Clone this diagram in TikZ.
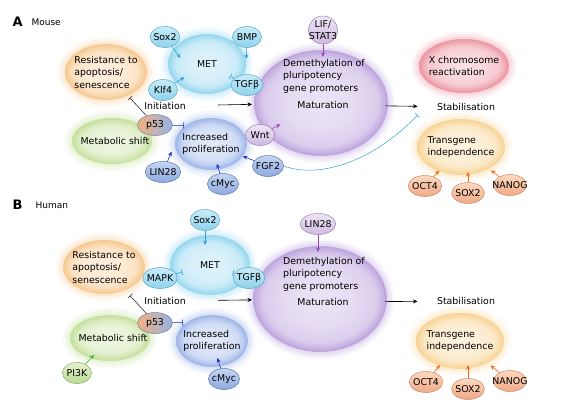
\documentclass[tikz,border=0pt]{standalone}
\usepackage{fontspec}
\setmainfont{DejaVu Sans}
\usepackage{tikz}
\usetikzlibrary{shapes.geometric,arrows.meta,calc}

\definecolor{resc}{RGB}{243,165,70}
\definecolor{metc}{RGB}{80,190,230}
\definecolor{metabc}{RGB}{160,205,90}
\definecolor{prolc}{RGB}{95,135,220}
\definecolor{demc}{RGB}{145,105,200}
\definecolor{xchrc}{RGB}{225,80,100}
\definecolor{transc}{RGB}{245,185,80}
\definecolor{cytop}{HTML}{C8ECF8}\definecolor{cybot}{HTML}{8ED2EC}\definecolor{cyline}{HTML}{5AA7C8}
\definecolor{bltop}{HTML}{C5D5F2}\definecolor{blbot}{HTML}{8EAADF}\definecolor{blline}{HTML}{5878B0}
\definecolor{putop}{HTML}{EEE6F5}\definecolor{pubot}{HTML}{CDB9E0}\definecolor{puline}{HTML}{9A80B8}
\definecolor{ortop}{HTML}{FCD9BF}\definecolor{orbot}{HTML}{F1A987}\definecolor{orline}{HTML}{CF8A66}
\definecolor{grtop}{HTML}{E4F1CF}\definecolor{grbot}{HTML}{B9DA91}\definecolor{grline}{HTML}{86AD62}
\definecolor{p53l}{HTML}{F4B07E}\definecolor{p53r}{HTML}{93B3E3}\definecolor{p53line}{HTML}{6F86B0}
\definecolor{cyarrc}{HTML}{2F9FDC}
\definecolor{blarrc}{HTML}{1C2FC8}
\definecolor{puarrc}{HTML}{9A45B8}
\definecolor{orarrc}{HTML}{F26A1B}
\definecolor{grarrc}{HTML}{4DB33D}

\colorlet{glowc}{white}
\pgfdeclareradialshading[glowc]{glow}{\pgfpoint{0bp}{0bp}}{%
  color(0bp)=(glowc!18!white); color(12bp)=(glowc!23!white);
  color(20bp)=(glowc!32!white); color(25bp)=(glowc!46!white);
  color(50bp)=(glowc!46!white)}

\tikzset{
  blob/.style={ellipse, inner sep=-10pt, align=left, shade, shading=glow,
    /utils/exec={\colorlet{glowc}{#1}},
    postaction={draw=#1, draw opacity=.06, line width=15pt},
    postaction={draw=#1, draw opacity=.08, line width=10pt},
    postaction={draw=#1, draw opacity=.10, line width=5pt}},
  small/.style={ellipse, inner xsep=-1pt, inner ysep=0pt, minimum width=29pt,
    minimum height=21pt, line width=.5pt},
  cysm/.style={small, draw=cyline, top color=cytop, bottom color=cybot},
  blsm/.style={small, draw=blline, top color=bltop, bottom color=blbot},
  pusm/.style={small, draw=puline, top color=putop, bottom color=pubot},
  orsm/.style={small, draw=orline, top color=ortop, bottom color=orbot},
  grsm/.style={small, draw=grline, top color=grtop, bottom color=grbot},
  p53sm/.style={small, minimum width=35pt, draw=p53line, left color=p53l, right color=p53r},
  arr/.style={-{Stealth[length=4.5pt,width=4pt]}, line width=.6pt},
  inh/.style={-{Bar[width=6pt]}, line width=.6pt},
  bkarr/.style={arr, black}, cyarr/.style={arr, cyarrc}, blarr/.style={arr, blarrc},
  puarr/.style={arr, puarrc}, orarr/.style={arr, orarrc}, grarr/.style={arr, grarrc},
  bkinh/.style={inh, black!80}, cyinh/.style={inh, cyarrc}, blinh/.style={inh, blarrc},
  panel/.style={anchor=west, font=\bfseries\fontsize{13}{13}\selectfont},
  species/.style={anchor=west, font=\fontsize{9}{11}\selectfont}
}

\begin{document}
\begin{tikzpicture}[x=1pt, y=-1pt, font=\fontsize{9.4}{12.5}\selectfont]
  \useasboundingbox (0,0) rectangle (578,408);

  % A: mouse
  \node[panel] (labA) at (9,22) {A};
  \node[species] (mouse) at (28,22) {Mouse};

  \node[blob=resc, minimum width=82pt, minimum height=56pt] (resA) at (106,72) {Resistance to\\apoptosis/\\senescence};
  \node[blob=metc, minimum width=78pt, minimum height=60pt] (metA) at (207,64) {MET};
  \node[blob=metabc, minimum width=80pt, minimum height=46pt] (metabA) at (112,141) {\hspace*{6pt}Metabolic shift};
  \node[blob=prolc, minimum width=72pt, minimum height=52pt] (prolA) at (211,144) {Increased\\proliferation};
  \node[blob=demc, minimum width=134pt, minimum height=106pt] (demA) at (321,103) {};
  \node[blob=xchrc, minimum width=90pt, minimum height=54pt] (xchrA) at (464,66) {X chromosome\\reactivation};
  \node[blob=transc, minimum width=88pt, minimum height=56pt] (transA) at (461,147) {Transgene\\independence};

  \node (initA) at (165,106) {Initiation};
  \node[anchor=west, align=left, inner sep=0pt] (demtxtA) at (283,76) {Demethylation of\\pluripotency\\gene promoters};
  \node (matA) at (323,105) {Maturation};
  \node (stabA) at (466,107) {Stabilisation};

  \node[cysm] (sox2A) at (165,37) {Sox2};
  \node[cysm] (bmpA) at (247,37) {BMP};
  \node[cysm] (klf4A) at (163,90) {Klf4};
  \node[cysm] (tgfA) at (247,85) {TGFβ};
  \node[p53sm] (p53A) at (155,125) {p53};
  \node[pusm] (wntA) at (260,135) {Wnt};
  \node[blsm] (lin28A) at (163,172) {LIN28};
  \node[blsm] (cmycA) at (223,184) {cMyc};
  \node[blsm] (fgf2A) at (268,166) {FGF2};
  \node[pusm, align=center, inner xsep=-5pt, inner ysep=-4pt, minimum height=28pt] (lifA) at (323,30) {LIF/\\STAT3};
  \node[orsm] (oct4A) at (425,186) {OCT4};
  \node[orsm] (sox2tA) at (468,193) {SOX2};
  \node[orsm, inner xsep=-6pt] (nanogA) at (510,185) {NANOG};

  \draw[cyarr] (sox2A) -- ($(sox2A)!26pt!(metA.south)$);
  \draw[cyarr] (bmpA) -- ($(bmpA)!22pt!(metA.east)$);
  \draw[cyarr] (klf4A) -- ($(klf4A)!25pt!(metA)$);
  \draw[cyinh] (tgfA) -- ($(tgfA)!19pt!(metA)$);
  \draw[bkinh] (p53A) -- ($(p53A)!37pt!(resA)$);
  \draw[blinh] (p53A) -- ($(p53A)!29pt!(prolA.north west)$);
  \draw[blarr] (lin28A) -- ($(lin28A)!22pt!(prolA.west)$);
  \draw[blarr] (cmycA) -- ($(cmycA)!21pt!(prolA)$);
  \draw[blarr] (fgf2A) -- ($(fgf2A)!27pt!(prolA)$);
  \draw[puarr] (wntA) -- ($(wntA)!23pt!(demA)$);
  \draw[puarr] (lifA) -- ($(lifA)!27pt!(lifA |- demA)$);
  \draw[bkarr, shorten <=29pt] (initA) -- ($(initA)!87pt!(demA)$);
  \draw[bkarr, shorten <=33pt, shorten >=16pt] (matA) -- (stabA);
  \draw[cyinh, line width=.5pt] (fgf2A.east) .. controls +(32,12) and +(-48,50) .. ($(stabA.south west)+(-16,1)$); % FGF2 blocks stabilisation
  \draw[orarr] (oct4A) -- ($(oct4A)!21pt!(transA)$);
  \draw[orarr] (sox2tA) -- ($(sox2tA)!21pt!(sox2tA |- transA)$);
  \draw[orarr] (nanogA) -- ($(nanogA)!24pt!(transA)$);

  % B: human
  \node[panel] (labB) at (9,205) {B};
  \node[species] (human) at (32,205) {Human};

  \node[blob=resc, minimum width=82pt, minimum height=54pt] (resB) at (104,267) {Resistance to\\apoptosis/\\senescence};
  \node[blob=metc, minimum width=80pt, minimum height=60pt] (metB) at (210,265) {MET};
  \node[blob=metabc, minimum width=80pt, minimum height=46pt] (metabB) at (110,338) {\hspace*{6pt}Metabolic shift};
  \node[blob=prolc, minimum width=72pt, minimum height=52pt] (prolB) at (212,341) {Increased\\proliferation};
  \node[blob=demc, minimum width=134pt, minimum height=106pt] (demB) at (320,299) {};
  \node[blob=transc, minimum width=88pt, minimum height=56pt] (transB) at (460,341) {Transgene\\independence};

  \node (initB) at (165,301) {Initiation};
  \node[anchor=west, align=left, inner sep=0pt] (demtxtB) at (283,274) {Demethylation of\\pluripotency\\gene promoters};
  \node (matB) at (323,302) {Maturation};
  \node (stabB) at (466,301) {Stabilisation};

  \node[cysm] (sox2B) at (205,220) {Sox2};
  \node[cysm] (mapkB) at (160,278) {MAPK};
  \node[cysm] (tgfB) at (249,278) {TGFβ};
  \node[p53sm] (p53B) at (155,323) {p53};
  \node[grsm] (pi3kB) at (77,373) {PI3K};
  \node[blsm] (cmycB) at (224,379) {cMyc};
  \node[pusm] (lin28B) at (318,224) {LIN28};
  \node[orsm] (oct4B) at (426,382) {OCT4};
  \node[orsm] (sox2tB) at (468,389) {SOX2};
  \node[orsm, inner xsep=-6pt] (nanogB) at (510,381) {NANOG};

  \draw[cyarr] (sox2B) -- ($(sox2B)!25pt!(sox2B |- metB)$);
  \draw[cyinh] (mapkB) -- ($(mapkB)!23pt!(metB)$);
  \draw[cyinh] (tgfB) -- ($(tgfB)!17pt!(metB)$);
  \draw[bkinh] (p53B) -- ($(p53B)!37pt!(resB)$);
  \draw[blinh] (p53B) -- ($(p53B)!28pt!(prolB.north west)$);
  \draw[grarr] (pi3kB) -- ($(pi3kB)!25pt!(metabB)$);
  \draw[blarr] (cmycB) -- ($(cmycB)!22pt!(prolB)$);
  \draw[puarr] (lin28B) -- ($(lin28B)!28pt!(lin28B |- demB)$);
  \draw[bkarr, shorten <=29pt] (initB) -- ($(initB)!87pt!(demB)$);
  \draw[bkarr, shorten <=33pt, shorten >=16pt] (matB) -- (stabB);
  \draw[orarr] (oct4B) -- ($(oct4B)!22pt!(transB)$);
  \draw[orarr] (sox2tB) -- ($(sox2tB)!24pt!(sox2tB |- transB)$);
  \draw[orarr] (nanogB) -- ($(nanogB)!25pt!(transB)$);
\end{tikzpicture}
\end{document}
